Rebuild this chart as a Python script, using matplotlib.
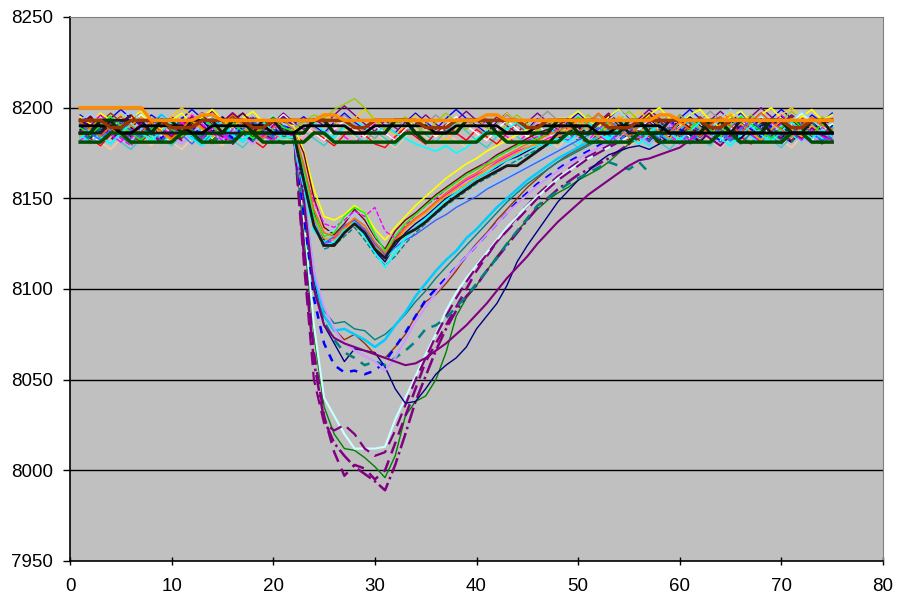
import numpy as np
import matplotlib
matplotlib.use("Agg")
import matplotlib.pyplot as plt

plt.rcParams['font.family'] = ['Liberation Sans', 'DejaVu Sans']

# --- runs that stay on the baseline (x = 1..75) ---
thick_orange = [8200, 8200, 8200, 8200, 8200, 8200, 8200, 8193, 8193, 8193, 8193, 8193, 8196, 8196, 8193, 8193, 8193, 8193, 8193, 8193, 8193, 8193, 8193, 8193, 8196, 8196, 8193, 8193, 8193, 8193, 8193, 8193, 8193, 8193, 8193, 8193, 8193, 8193, 8193, 8193, 8196, 8196, 8193, 8193, 8193, 8193, 8193, 8193, 8193, 8193, 8193, 8193, 8193, 8193, 8193, 8193, 8193, 8196, 8196, 8193, 8193, 8193, 8193, 8193, 8193, 8193, 8193, 8193, 8193, 8193, 8193, 8193, 8193, 8193, 8193]
thick_brown = [8193, 8193, 8193, 8189, 8189, 8193, 8193, 8193, 8193, 8189, 8189, 8189, 8193, 8193, 8193, 8193, 8193, 8189, 8189, 8193, 8193, 8193, 8193, 8193, 8193, 8193, 8193, 8189, 8189, 8193, 8193, 8193, 8193, 8193, 8189, 8189, 8189, 8193, 8193, 8193, 8193, 8193, 8193, 8193, 8189, 8189, 8193, 8193, 8193, 8193, 8193, 8193, 8189, 8189, 8189, 8193, 8193, 8193, 8193, 8193, 8193, 8193, 8189, 8189, 8193, 8193, 8193, 8193, 8193, 8193, 8189, 8189, 8193, 8193, 8193]
thick_dkgreen = [8186, 8186, 8193, 8193, 8186, 8186, 8186, 8186, 8193, 8193, 8186, 8186, 8186, 8186, 8186, 8193, 8193, 8186, 8186, 8186, 8186, 8186, 8186, 8193, 8193, 8186, 8186, 8186, 8186, 8186, 8186, 8193, 8193, 8186, 8186, 8186, 8186, 8186, 8193, 8193, 8193, 8186, 8186, 8186, 8186, 8186, 8186, 8193, 8193, 8186, 8186, 8186, 8186, 8186, 8193, 8193, 8186, 8186, 8186, 8186, 8186, 8186, 8193, 8193, 8186, 8186, 8186, 8186, 8193, 8193, 8186, 8186, 8186, 8186, 8186]
thick_green = [8181, 8181, 8181, 8186, 8186, 8181, 8181, 8181, 8181, 8181, 8186, 8186, 8181, 8181, 8181, 8181, 8186, 8186, 8181, 8181, 8181, 8181, 8181, 8186, 8186, 8181, 8181, 8181, 8181, 8181, 8181, 8181, 8186, 8186, 8181, 8181, 8181, 8181, 8181, 8181, 8186, 8186, 8181, 8181, 8181, 8181, 8181, 8181, 8186, 8186, 8181, 8181, 8181, 8181, 8181, 8186, 8186, 8181, 8181, 8181, 8181, 8181, 8181, 8186, 8186, 8181, 8181, 8181, 8181, 8181, 8186, 8186, 8181, 8181, 8181]
thick_black = [8190, 8190, 8190, 8190, 8186, 8186, 8190, 8190, 8190, 8190, 8190, 8186, 8186, 8190, 8190, 8190, 8190, 8190, 8190, 8186, 8186, 8186, 8190, 8190, 8190, 8190, 8190, 8186, 8186, 8190, 8190, 8190, 8190, 8190, 8190, 8186, 8186, 8190, 8190, 8190, 8190, 8190, 8186, 8186, 8186, 8190, 8190, 8190, 8190, 8190, 8190, 8186, 8186, 8190, 8190, 8190, 8190, 8190, 8186, 8186, 8186, 8186, 8186, 8186, 8186, 8186, 8186, 8186, 8186, 8186, 8186, 8186, 8186, 8186, 8186]

flat_lime = [8190, 8194, 8189, 8185, 8191, 8196, 8191, 8187, 8193, 8188, 8184, 8190, 8195, 8190, 8186, 8192, 8188, 8184, 8190, 8195, 8190, 8188, 8192, 8196, 8194, 8199, 8202, 8205, 8200, 8193, 8188, 8191, 8195, 8190, 8186, 8192, 8197, 8192, 8188, 8194, 8189, 8185, 8191, 8196, 8191, 8187, 8193, 8189, 8185, 8191, 8196, 8191, 8187, 8193, 8198, 8193, 8189, 8185, 8191, 8196, 8191, 8187, 8193, 8189, 8185, 8191, 8196, 8191, 8187, 8193, 8198, 8193, 8189, 8195, 8191]
flat_cyan = [8185, 8189, 8184, 8180, 8186, 8191, 8186, 8182, 8188, 8184, 8180, 8186, 8191, 8186, 8182, 8188, 8193, 8188, 8184, 8190, 8186, 8183, 8187, 8192, 8187, 8183, 8189, 8194, 8189, 8185, 8190, 8186, 8183, 8180, 8178, 8176, 8179, 8175, 8178, 8183, 8187, 8184, 8188, 8192, 8187, 8183, 8189, 8185, 8181, 8187, 8192, 8187, 8183, 8189, 8194, 8189, 8185, 8181, 8187, 8192, 8187, 8183, 8189, 8185, 8181, 8187, 8192, 8187, 8183, 8189, 8194, 8189, 8185, 8181, 8186]
flat_purple = [8194, 8190, 8196, 8191, 8187, 8193, 8198, 8193, 8189, 8195, 8191, 8187, 8193, 8198, 8193, 8189, 8194, 8190, 8186, 8192, 8197, 8192, 8188, 8194, 8190, 8196, 8201, 8196, 8191, 8187, 8193, 8189, 8185, 8191, 8196, 8191, 8187, 8193, 8198, 8193, 8189, 8195, 8190, 8186, 8192, 8197, 8192, 8188, 8194, 8190, 8186, 8192, 8197, 8192, 8188, 8194, 8199, 8194, 8190, 8196, 8191, 8187, 8193, 8198, 8193, 8189, 8195, 8200, 8195, 8191, 8196, 8192, 8188, 8194, 8190]
flat_magenta = [8182, 8187, 8192, 8187, 8183, 8179, 8185, 8190, 8185, 8181, 8187, 8183, 8179, 8185, 8190, 8185, 8181, 8187, 8192, 8187, 8183, 8185, 8190, 8186, 8182, 8188, 8184, 8180, 8186, 8191, 8186, 8182, 8188, 8184, 8180, 8186, 8191, 8186, 8182, 8188, 8193, 8188, 8184, 8180, 8186, 8191, 8186, 8182, 8188, 8184, 8180, 8186, 8191, 8186, 8182, 8188, 8193, 8188, 8184, 8180, 8186, 8191, 8186, 8182, 8188, 8184, 8180, 8186, 8191, 8186, 8182, 8188, 8193, 8188, 8184]
flat_blue = [8196, 8192, 8188, 8194, 8199, 8194, 8190, 8196, 8192, 8188, 8194, 8199, 8194, 8190, 8186, 8192, 8197, 8192, 8188, 8194, 8190, 8191, 8195, 8190, 8186, 8192, 8197, 8192, 8188, 8194, 8190, 8186, 8192, 8197, 8192, 8188, 8194, 8199, 8194, 8190, 8186, 8192, 8197, 8192, 8188, 8194, 8190, 8186, 8192, 8197, 8192, 8188, 8194, 8199, 8194, 8190, 8196, 8192, 8188, 8194, 8199, 8194, 8190, 8186, 8192, 8197, 8192, 8188, 8194, 8199, 8194, 8190, 8196, 8192, 8197]
flat_pink = [8188, 8184, 8190, 8195, 8190, 8186, 8182, 8188, 8193, 8188, 8184, 8190, 8186, 8182, 8188, 8193, 8188, 8184, 8190, 8195, 8190, 8187, 8183, 8189, 8194, 8189, 8185, 8181, 8187, 8192, 8187, 8183, 8189, 8194, 8189, 8185, 8181, 8187, 8192, 8187, 8183, 8189, 8185, 8181, 8187, 8192, 8187, 8183, 8189, 8194, 8189, 8185, 8181, 8187, 8192, 8187, 8183, 8189, 8194, 8189, 8185, 8181, 8187, 8192, 8187, 8183, 8189, 8185, 8181, 8187, 8192, 8187, 8183, 8189, 8186]
flat_tan = [8180, 8185, 8181, 8177, 8183, 8188, 8183, 8179, 8185, 8181, 8177, 8183, 8188, 8183, 8179, 8185, 8190, 8185, 8181, 8187, 8183, 8181, 8185, 8190, 8186, 8182, 8188, 8184, 8180, 8186, 8182, 8178, 8184, 8189, 8184, 8180, 8186, 8182, 8178, 8184, 8189, 8184, 8180, 8186, 8191, 8186, 8182, 8178, 8184, 8189, 8184, 8180, 8186, 8182, 8178, 8184, 8189, 8184, 8180, 8186, 8191, 8186, 8182, 8178, 8184, 8189, 8184, 8180, 8186, 8182, 8178, 8184, 8189, 8184, 8181]
flat_gold = [8193, 8188, 8184, 8190, 8196, 8192, 8187, 8183, 8189, 8195, 8200, 8195, 8190, 8186, 8192, 8197, 8192, 8187, 8183, 8189, 8194, 8190, 8186, 8192, 8197, 8192, 8188, 8194, 8199, 8194, 8189, 8185, 8191, 8196, 8191, 8186, 8182, 8188, 8194, 8189, 8185, 8191, 8197, 8192, 8187, 8183, 8189, 8194, 8189, 8185, 8191, 8197, 8192, 8187, 8193, 8198, 8193, 8188, 8184, 8190, 8196, 8191, 8186, 8192, 8198, 8193, 8188, 8184, 8190, 8196, 8200, 8195, 8190, 8186, 8191]
flat_aqua = [8181, 8186, 8191, 8186, 8181, 8177, 8183, 8188, 8183, 8179, 8185, 8190, 8185, 8180, 8186, 8182, 8178, 8184, 8189, 8184, 8180, 8182, 8187, 8183, 8179, 8185, 8190, 8185, 8181, 8187, 8183, 8179, 8185, 8190, 8185, 8181, 8187, 8192, 8187, 8182, 8178, 8184, 8189, 8184, 8180, 8186, 8191, 8186, 8182, 8178, 8184, 8189, 8184, 8180, 8186, 8191, 8186, 8181, 8177, 8183, 8188, 8183, 8179, 8185, 8190, 8185, 8181, 8187, 8182, 8178, 8184, 8189, 8184, 8180, 8183]
flat_red = [8187, 8183, 8179, 8185, 8190, 8185, 8181, 8187, 8192, 8187, 8183, 8189, 8185, 8181, 8187, 8192, 8187, 8182, 8178, 8184, 8189, 8185, 8181, 8187, 8183, 8179, 8185, 8190, 8185, 8180, 8178, 8184, 8189, 8184, 8180, 8186, 8191, 8186, 8182, 8188, 8184, 8180, 8186, 8191, 8186, 8182, 8188, 8193, 8188, 8184, 8180, 8186, 8191, 8186, 8182, 8188, 8184, 8180, 8186, 8191, 8186, 8182, 8188, 8193, 8188, 8184, 8180, 8186, 8191, 8186, 8182, 8188, 8184, 8180, 8185]
flat_gray = [8191, 8195, 8190, 8186, 8192, 8188, 8184, 8190, 8195, 8190, 8186, 8192, 8197, 8192, 8188, 8184, 8190, 8195, 8190, 8186, 8191, 8189, 8193, 8189, 8185, 8191, 8196, 8191, 8187, 8183, 8189, 8194, 8189, 8185, 8191, 8196, 8191, 8187, 8193, 8189, 8185, 8191, 8196, 8191, 8187, 8193, 8198, 8193, 8189, 8185, 8191, 8196, 8191, 8187, 8193, 8189, 8185, 8191, 8196, 8191, 8187, 8193, 8198, 8193, 8189, 8185, 8191, 8196, 8191, 8187, 8193, 8189, 8185, 8191, 8188]
flat_white = [8189, 8185, 8181, 8187, 8192, 8187, 8183, 8189, 8185, 8181, 8187, 8192, 8187, 8183, 8189, 8194, 8189, 8185, 8191, 8187, 8183, 8186, 8190, 8186, 8182, 8188, 8193, 8188, 8184, 8190, 8186, 8182, 8188, 8193, 8188, 8184, 8190, 8195, 8190, 8186, 8182, 8188, 8193, 8188, 8184, 8190, 8186, 8182, 8188, 8193, 8188, 8184, 8190, 8195, 8190, 8186, 8182, 8188, 8193, 8188, 8184, 8190, 8186, 8182, 8188, 8193, 8188, 8184, 8190, 8195, 8190, 8186, 8182, 8188, 8185]

# --- shallow dip, bottom near 8115-8135 ---
shallow_1 = [8188, 8192, 8186, 8190, 8194, 8189, 8185, 8191, 8195, 8188, 8184, 8190, 8193, 8187, 8191, 8196, 8190, 8186, 8189, 8193, 8188, 8186, 8168, 8142, 8127, 8125, 8131, 8136, 8130, 8121, 8115, 8124, 8131, 8136, 8140, 8145, 8150, 8153, 8157, 8161, 8164, 8167, 8171, 8173, 8176, 8179, 8181, 8183, 8186, 8190, 8185, 8189, 8193, 8188, 8184, 8190, 8194, 8189, 8186, 8191, 8195, 8190, 8186, 8189, 8193, 8188, 8185, 8190, 8194, 8189, 8186, 8191, 8188, 8185, 8190]
shallow_2 = [8182, 8186, 8190, 8185, 8181, 8187, 8191, 8186, 8182, 8188, 8192, 8186, 8183, 8189, 8185, 8181, 8186, 8190, 8184, 8182, 8187, 8184, 8160, 8138, 8124, 8128, 8134, 8138, 8132, 8124, 8118, 8128, 8134, 8139, 8143, 8148, 8152, 8156, 8160, 8163, 8166, 8170, 8173, 8176, 8178, 8180, 8183, 8185, 8182, 8187, 8191, 8185, 8181, 8186, 8190, 8184, 8182, 8188, 8192, 8186, 8182, 8187, 8191, 8186, 8183, 8189, 8185, 8181, 8187, 8191, 8186, 8182, 8188, 8184, 8182]
shallow_3 = [8195, 8191, 8197, 8193, 8189, 8194, 8198, 8192, 8188, 8193, 8197, 8191, 8195, 8199, 8193, 8189, 8194, 8198, 8192, 8196, 8191, 8190, 8176, 8155, 8140, 8138, 8141, 8146, 8142, 8133, 8127, 8134, 8140, 8146, 8151, 8156, 8161, 8165, 8169, 8172, 8176, 8179, 8182, 8185, 8188, 8190, 8192, 8194, 8194, 8198, 8193, 8189, 8195, 8199, 8193, 8190, 8196, 8200, 8194, 8191, 8196, 8199, 8193, 8189, 8195, 8198, 8192, 8196, 8200, 8194, 8190, 8195, 8199, 8193, 8196]
shallow_4 = [8185, 8181, 8186, 8191, 8187, 8183, 8189, 8184, 8180, 8186, 8190, 8185, 8181, 8187, 8192, 8186, 8182, 8188, 8184, 8180, 8186, 8183, 8155, 8132, 8126, 8130, 8133, 8137, 8131, 8123, 8117, 8122, 8128, 8133, 8138, 8142, 8147, 8151, 8155, 8158, 8162, 8165, 8168, 8171, 8174, 8177, 8179, 8181, 8184, 8180, 8186, 8190, 8185, 8181, 8187, 8183, 8179, 8185, 8189, 8184, 8180, 8186, 8191, 8186, 8182, 8188, 8184, 8180, 8186, 8190, 8185, 8181, 8187, 8183, 8180]
shallow_5 = [8190, 8195, 8190, 8186, 8192, 8196, 8190, 8187, 8193, 8189, 8185, 8191, 8196, 8191, 8187, 8193, 8197, 8191, 8187, 8192, 8188, 8187, 8175, 8150, 8134, 8130, 8136, 8144, 8138, 8128, 8122, 8132, 8138, 8142, 8147, 8152, 8156, 8160, 8164, 8167, 8170, 8174, 8177, 8180, 8183, 8186, 8188, 8190, 8194, 8189, 8185, 8191, 8196, 8190, 8186, 8192, 8197, 8191, 8187, 8193, 8189, 8185, 8191, 8195, 8190, 8186, 8192, 8197, 8192, 8188, 8193, 8189, 8185, 8191, 8194]
shallow_6 = [8187, 8183, 8189, 8193, 8188, 8184, 8190, 8186, 8182, 8188, 8193, 8188, 8184, 8190, 8186, 8182, 8188, 8192, 8187, 8183, 8188, 8185, 8162, 8136, 8122, 8124, 8129, 8134, 8127, 8119, 8113, 8118, 8125, 8131, 8136, 8141, 8146, 8150, 8154, 8158, 8161, 8164, 8168, 8171, 8174, 8177, 8180, 8182, 8186, 8182, 8188, 8193, 8188, 8184, 8190, 8186, 8182, 8188, 8193, 8187, 8183, 8189, 8185, 8181, 8187, 8192, 8187, 8183, 8189, 8185, 8181, 8187, 8192, 8186, 8183]
shallow_7 = [8193, 8197, 8192, 8188, 8194, 8198, 8193, 8189, 8195, 8191, 8187, 8193, 8197, 8192, 8188, 8194, 8190, 8186, 8192, 8196, 8191, 8189, 8170, 8145, 8130, 8133, 8138, 8142, 8136, 8127, 8121, 8126, 8130, 8134, 8137, 8140, 8144, 8147, 8150, 8153, 8156, 8159, 8162, 8165, 8168, 8171, 8174, 8177, 8180, 8184, 8188, 8187, 8193, 8198, 8193, 8189, 8195, 8190, 8186, 8192, 8197, 8192, 8188, 8194, 8199, 8194, 8190, 8196, 8191, 8187, 8193, 8198, 8193, 8189, 8192]
shallow_8 = [8184, 8189, 8194, 8189, 8185, 8190, 8195, 8190, 8186, 8182, 8188, 8193, 8188, 8184, 8189, 8194, 8189, 8185, 8190, 8186, 8183, 8184, 8165, 8140, 8128, 8127, 8132, 8139, 8133, 8125, 8117, 8126, 8133, 8138, 8142, 8147, 8151, 8155, 8158, 8162, 8166, 8169, 8172, 8175, 8178, 8180, 8182, 8184, 8188, 8193, 8188, 8184, 8190, 8195, 8190, 8186, 8191, 8187, 8183, 8189, 8194, 8189, 8185, 8191, 8196, 8191, 8187, 8182, 8188, 8193, 8188, 8184, 8190, 8186, 8188]
shallow_9 = [8191, 8186, 8182, 8188, 8192, 8187, 8183, 8189, 8194, 8189, 8185, 8180, 8186, 8191, 8186, 8182, 8188, 8193, 8188, 8184, 8190, 8186, 8158, 8134, 8125, 8129, 8135, 8138, 8133, 8125, 8119, 8123, 8127, 8130, 8134, 8138, 8141, 8145, 8148, 8151, 8155, 8158, 8161, 8164, 8167, 8170, 8173, 8176, 8179, 8182, 8185, 8189, 8185, 8181, 8187, 8192, 8187, 8183, 8189, 8185, 8180, 8186, 8191, 8186, 8182, 8188, 8193, 8188, 8184, 8180, 8186, 8191, 8186, 8182, 8184]
shallow_10 = [8186, 8191, 8196, 8191, 8187, 8183, 8189, 8194, 8189, 8185, 8191, 8196, 8191, 8186, 8182, 8188, 8193, 8188, 8184, 8190, 8186, 8185, 8166, 8148, 8136, 8134, 8138, 8143, 8140, 8145, 8132, 8128, 8135, 8141, 8146, 8150, 8155, 8159, 8163, 8166, 8170, 8173, 8176, 8179, 8182, 8184, 8186, 8188, 8191, 8186, 8182, 8188, 8193, 8188, 8184, 8190, 8195, 8190, 8185, 8181, 8187, 8192, 8187, 8183, 8189, 8194, 8189, 8185, 8191, 8196, 8191, 8187, 8183, 8189, 8186]
shallow_11 = [8189, 8185, 8190, 8195, 8190, 8186, 8182, 8188, 8193, 8188, 8184, 8189, 8194, 8190, 8186, 8191, 8187, 8183, 8189, 8194, 8189, 8187, 8167, 8141, 8129, 8131, 8140, 8145, 8142, 8130, 8121, 8129, 8136, 8141, 8146, 8151, 8155, 8159, 8163, 8166, 8169, 8173, 8176, 8179, 8181, 8183, 8185, 8187, 8190, 8195, 8190, 8186, 8192, 8188, 8184, 8190, 8195, 8190, 8186, 8182, 8188, 8193, 8188, 8184, 8190, 8195, 8191, 8187, 8183, 8189, 8194, 8189, 8185, 8191, 8188]
shallow_12 = [8183, 8188, 8184, 8180, 8186, 8191, 8186, 8182, 8187, 8192, 8187, 8183, 8179, 8185, 8190, 8185, 8181, 8187, 8192, 8187, 8183, 8184, 8163, 8137, 8124, 8126, 8132, 8136, 8129, 8120, 8112, 8120, 8128, 8134, 8139, 8144, 8149, 8153, 8157, 8161, 8164, 8168, 8171, 8174, 8177, 8179, 8181, 8183, 8181, 8186, 8191, 8186, 8182, 8188, 8184, 8180, 8186, 8191, 8186, 8182, 8187, 8192, 8187, 8183, 8179, 8185, 8190, 8185, 8181, 8187, 8192, 8187, 8183, 8188, 8184]
shallow_13 = [8192, 8188, 8184, 8190, 8195, 8190, 8186, 8192, 8187, 8183, 8189, 8194, 8189, 8185, 8191, 8196, 8191, 8187, 8183, 8189, 8193, 8188, 8169, 8144, 8131, 8129, 8134, 8139, 8135, 8126, 8120, 8127, 8134, 8139, 8143, 8148, 8153, 8157, 8161, 8164, 8168, 8171, 8174, 8177, 8180, 8182, 8185, 8187, 8190, 8186, 8192, 8197, 8192, 8188, 8184, 8190, 8195, 8190, 8186, 8192, 8188, 8184, 8190, 8195, 8190, 8186, 8192, 8197, 8192, 8188, 8184, 8190, 8195, 8190, 8188]
shallow_14 = [8186, 8186, 8186, 8193, 8193, 8193, 8193, 8186, 8186, 8186, 8186, 8193, 8193, 8193, 8186, 8186, 8186, 8186, 8193, 8193, 8186, 8186, 8160, 8135, 8124, 8124, 8131, 8136, 8131, 8122, 8117, 8126, 8130, 8133, 8137, 8142, 8147, 8151, 8155, 8159, 8162, 8165, 8168, 8168, 8172, 8176, 8180, 8186, 8186, 8186, 8186, 8193, 8193, 8193, 8186, 8186, 8186, 8186, 8193, 8193, 8193, 8193, 8186, 8186, 8186, 8193, 8193, 8193, 8186, 8186, 8186, 8186, 8193, 8193, 8186]

# --- medium dip, bottom near 8040-8075 ---
medium_navy = [8187, 8183, 8189, 8193, 8188, 8184, 8190, 8186, 8182, 8188, 8193, 8188, 8184, 8190, 8195, 8190, 8186, 8182, 8188, 8193, 8188, 8186, 8150, 8105, 8080, 8070, 8060, 8067, 8066, 8065, 8057, 8045, 8037, 8038, 8045, 8053, 8058, 8062, 8068, 8078, 8085, 8092, 8102, 8115, 8124, 8132, 8140, 8148, 8154, 8160, 8165, 8170, 8174, 8176, 8178, 8179, 8177, 8180, 8184, 8188, 8185, 8181, 8187, 8192, 8187, 8183, 8189, 8194, 8189, 8185, 8181, 8187, 8192, 8187, 8184]
medium_brown = [8190, 8186, 8192, 8197, 8192, 8188, 8184, 8190, 8195, 8190, 8186, 8192, 8188, 8184, 8190, 8195, 8190, 8186, 8192, 8188, 8184, 8186, 8145, 8100, 8085, 8078, 8072, 8075, 8070, 8064, 8062, 8068, 8075, 8085, 8093, 8097, 8103, 8110, 8118, 8125, 8131, 8138, 8144, 8150, 8156, 8161, 8166, 8170, 8174, 8177, 8180, 8183, 8186, 8190, 8186, 8182, 8188, 8193, 8188, 8184, 8190, 8195, 8190, 8186, 8182, 8188, 8193, 8188, 8184, 8190, 8195, 8190, 8186, 8192, 8188]
medium_teal = [8183, 8188, 8193, 8188, 8184, 8180, 8186, 8191, 8186, 8182, 8188, 8184, 8180, 8186, 8191, 8186, 8182, 8188, 8193, 8188, 8184, 8183, 8148, 8110, 8088, 8081, 8082, 8078, 8077, 8072, 8075, 8080, 8086, 8093, 8099, 8106, 8112, 8118, 8124, 8130, 8136, 8142, 8148, 8153, 8158, 8162, 8166, 8170, 8173, 8176, 8179, 8182, 8180, 8184, 8189, 8184, 8180, 8186, 8191, 8186, 8182, 8188, 8193, 8188, 8184, 8180, 8186, 8191, 8186, 8182, 8188, 8193, 8188, 8184, 8187]
medium_sky = [8191, 8187, 8183, 8189, 8194, 8189, 8185, 8191, 8196, 8191, 8187, 8183, 8189, 8194, 8189, 8185, 8191, 8187, 8183, 8189, 8194, 8189, 8152, 8108, 8085, 8077, 8078, 8075, 8072, 8068, 8072, 8080, 8087, 8096, 8103, 8110, 8116, 8121, 8128, 8133, 8139, 8145, 8150, 8155, 8160, 8164, 8168, 8172, 8175, 8178, 8181, 8184, 8188, 8193, 8188, 8184, 8190, 8186, 8182, 8188, 8193, 8188, 8184, 8190, 8195, 8190, 8186, 8182, 8188, 8193, 8188, 8184, 8190, 8186, 8189]
medium_teal_dash = [8186, 8182, 8188, 8193, 8188, 8184, 8190, 8186, 8182, 8188, 8193, 8188, 8184, 8180, 8186, 8191, 8186, 8182, 8188, 8184, 8180, 8184, 8140, 8100, 8082, 8072, 8065, 8062, 8058, 8060, 8058, 8062, 8066, 8071, 8078, 8080, 8084, 8090, 8096, 8103, 8110, 8117, 8125, 8132, 8139, 8146, 8150, 8154, 8158, 8161, 8164, 8167, 8170, 8168, 8166, 8170, 8164]
medium_blue_dash = [8189, 8194, 8189, 8185, 8191, 8196, 8191, 8187, 8183, 8189, 8194, 8189, 8185, 8191, 8187, 8183, 8189, 8194, 8189, 8185, 8191, 8187, 8142, 8095, 8070, 8058, 8054, 8055, 8053, 8055, 8060, 8068, 8076, 8085, 8094, 8100, 8106, 8112, 8118, 8124, 8130, 8136, 8142, 8148, 8153, 8158, 8162, 8166, 8170, 8173, 8176, 8179, 8182, 8185, 8190, 8186, 8182, 8188, 8193, 8188, 8184, 8190, 8186, 8182, 8188, 8193, 8188, 8184, 8190, 8195, 8190, 8186, 8182, 8188, 8185]
medium_lavender = [8184, 8180, 8186, 8191, 8186, 8182, 8188, 8193, 8188, 8184, 8180, 8186, 8191, 8186, 8182, 8188, 8184, 8180, 8186, 8191, 8186, 8184, 8150, 8110, 8090, 8078, 8070, 8066, 8063, 8060, 8055, 8062, 8072, 8082, 8090, 8098, 8105, 8112, 8118, 8124, 8130, 8136, 8142, 8147, 8152, 8157, 8161, 8165, 8169, 8172, 8175, 8178, 8181, 8184, 8188, 8184, 8180, 8186, 8191, 8186, 8182, 8188, 8184, 8180, 8186, 8191, 8186, 8182, 8188, 8193, 8188, 8184, 8180, 8186, 8183]
medium_purple = [8192, 8188, 8184, 8190, 8195, 8190, 8186, 8192, 8188, 8184, 8190, 8195, 8190, 8186, 8192, 8197, 8192, 8188, 8184, 8190, 8195, 8190, 8150, 8100, 8080, 8073, 8070, 8068, 8066, 8064, 8062, 8060, 8058, 8059, 8062, 8066, 8070, 8075, 8080, 8086, 8092, 8099, 8106, 8112, 8118, 8125, 8131, 8137, 8142, 8147, 8152, 8156, 8160, 8164, 8168, 8171, 8172, 8174, 8176, 8178, 8182, 8187, 8183, 8179, 8185, 8190, 8185, 8181, 8187, 8192, 8187, 8183, 8189, 8185, 8182]

# --- deep dip, bottom near 7990-8012 ---
deep_green = [8188, 8184, 8190, 8195, 8190, 8186, 8182, 8188, 8193, 8188, 8184, 8190, 8186, 8182, 8188, 8193, 8188, 8184, 8190, 8195, 8190, 8186, 8130, 8075, 8035, 8020, 8012, 8011, 8007, 8002, 7996, 8008, 8030, 8038, 8041, 8050, 8065, 8085, 8095, 8102, 8110, 8118, 8125, 8132, 8138, 8144, 8149, 8153, 8156, 8160, 8163, 8166, 8170, 8175, 8180, 8183, 8181, 8186, 8191, 8186, 8182, 8188, 8193, 8188, 8184, 8190, 8186, 8182, 8188, 8193, 8188, 8184, 8190, 8186, 8189]
deep_purple_dd = [8190, 8195, 8190, 8186, 8192, 8188, 8184, 8190, 8195, 8190, 8186, 8192, 8197, 8192, 8188, 8184, 8190, 8195, 8190, 8186, 8192, 8188, 8120, 8060, 8028, 8015, 8008, 8002, 7998, 7994, 7989, 8003, 8020, 8038, 8052, 8066, 8078, 8088, 8096, 8102, 8110, 8117, 8124, 8131, 8138, 8145, 8150, 8155, 8159, 8163, 8166, 8169, 8172, 8176, 8180, 8184, 8189, 8185, 8181, 8187, 8192, 8187, 8183, 8189, 8194, 8189, 8185, 8191, 8187, 8183, 8189, 8194, 8189, 8185, 8188]
deep_purple_dash = [8185, 8181, 8187, 8192, 8187, 8183, 8189, 8185, 8181, 8187, 8192, 8187, 8183, 8189, 8194, 8189, 8185, 8181, 8187, 8192, 8187, 8185, 8125, 8065, 8030, 8010, 7997, 8003, 8001, 7995, 8000, 8015, 8030, 8045, 8060, 8070, 8080, 8090, 8100, 8110, 8118, 8126, 8133, 8140, 8146, 8152, 8157, 8162, 8166, 8170, 8173, 8176, 8179, 8182, 8186, 8191, 8186, 8182, 8188, 8193, 8188, 8184, 8190, 8186, 8182, 8188, 8193, 8188, 8184, 8190, 8195, 8190, 8186, 8182, 8186]
deep_pale = [8192, 8188, 8194, 8189, 8185, 8191, 8196, 8191, 8187, 8193, 8189, 8185, 8191, 8196, 8191, 8187, 8193, 8189, 8185, 8191, 8196, 8191, 8140, 8080, 8040, 8030, 8020, 8012, 8012, 8012, 8013, 8028, 8040, 8052, 8064, 8075, 8088, 8098, 8106, 8113, 8120, 8127, 8134, 8140, 8146, 8151, 8156, 8161, 8165, 8169, 8172, 8175, 8178, 8181, 8184, 8188, 8193, 8188, 8184, 8190, 8195, 8190, 8186, 8192, 8188, 8184, 8190, 8195, 8190, 8186, 8192, 8197, 8192, 8188, 8191]
deep_purple_bump = [8187, 8191, 8186, 8182, 8188, 8193, 8188, 8184, 8190, 8186, 8182, 8188, 8193, 8188, 8184, 8180, 8186, 8191, 8186, 8182, 8188, 8186, 8115, 8050, 8026, 8022, 8025, 8020, 8012, 8008, 8010, 8022, 8036, 8050, 8062, 8074, 8085, 8095, 8104, 8112, 8119, 8126, 8132, 8138, 8144, 8150, 8155, 8160, 8164, 8168, 8172, 8175, 8178, 8181, 8183, 8187, 8192, 8187, 8183, 8189, 8185, 8181, 8187, 8192, 8187, 8183, 8189, 8194, 8189, 8185, 8181, 8187, 8192, 8187, 8184]

# (values, colour, dash, width) in drawing order
series = [
    (flat_tan, '#FFCC99', '-', 1.0),
    (flat_pink, '#FF99CC', '-', 1.0),
    (flat_magenta, '#FF00FF', '--', 1.0),
    (flat_blue, '#0000FF', '-', 1.0),
    (flat_purple, '#800080', '-', 1.0),
    (flat_gold, '#FFCC00', '-', 1.0),
    (flat_aqua, '#33CCCC', '-', 1.0),
    (flat_red, '#FF0000', '-', 1.0),
    (flat_gray, '#969696', '-', 1.0),
    (flat_white, '#FFFFFF', '-', 1.0),
    (flat_cyan, '#00FFFF', '-', 1.2),
    (flat_lime, '#99CC00', '-', 1.0),
    (deep_green, '#008000', '-', 1.0),
    (deep_purple_dd, '#800080', '-.', 1.8),
    (deep_purple_dash, '#800080', (0, (5, 3)), 1.8),
    (deep_pale, '#CCFFFF', '-', 1.5),
    (deep_purple_bump, '#800080', (0, (6, 3)), 1.6),
    (medium_navy, '#000080', '-', 1.0),
    (medium_brown, '#993300', '-', 1.0),
    (medium_teal, '#008080', '-', 1.0),
    (medium_sky, '#00CCFF', '-', 1.8),
    (medium_teal_dash, '#008080', (0, (4, 3)), 1.8),
    (medium_blue_dash, '#0000FF', (0, (3, 3)), 1.8),
    (medium_lavender, '#CC99FF', '-', 1.5),
    (medium_purple, '#800080', '-', 1.5),
    (shallow_1, '#000080', '-', 1.0),
    (shallow_2, '#FF00FF', '-', 1.0),
    (shallow_3, '#FFFF00', '-', 1.2),
    (shallow_4, '#00FFFF', '-.', 1.2),
    (shallow_5, '#800000', '-', 1.0),
    (shallow_6, '#008080', '--', 1.0),
    (shallow_7, '#99CCFF', '-', 1.2),
    (shallow_8, '#FF9900', '-', 1.2),
    (shallow_9, '#3366FF', '-', 1.0),
    (shallow_10, '#FF00FF', '--', 1.0),
    (shallow_11, '#00FF00', '-', 1.0),
    (shallow_12, '#00FFFF', '-', 1.2),
    (shallow_13, '#FF6600', '-', 1.0),
    (shallow_14, '#1A1A1A', '-', 2.0),
    (thick_green, '#005000', '-', 2.5),
    (thick_dkgreen, '#003300', '-', 2.5),
    (thick_black, '#000000', '-', 2.0),
    (thick_brown, '#993300', '-', 2.5),
    (thick_orange, '#FF8C00', '-', 2.5),
]

fig = plt.figure(figsize=(8.98, 6.01), dpi=100)
ax = fig.add_axes([70 / 898, 40 / 601, 813 / 898, 544 / 601])
ax.set_facecolor('#C0C0C0')

for vals, col, ls, lw in series:
    x = np.arange(1, len(vals) + 1)
    ax.plot(x, vals, color=col, linestyle=ls, linewidth=lw, zorder=3)

ax.set_xlim(0, 80)
ax.set_ylim(7950, 8250)
ax.set_xticks(np.arange(0, 81, 10))
ax.set_yticks(np.arange(7950, 8251, 50))
for yv in range(8000, 8250, 50):
    ax.axhline(yv, color='black', linewidth=1.0, zorder=2)

ax.spines['left'].set_color('black')
ax.spines['bottom'].set_color('black')
ax.spines['left'].set_linewidth(1.2)
ax.spines['bottom'].set_linewidth(1.2)
ax.spines['top'].set_color('#808080')
ax.spines['right'].set_color('#808080')
ax.tick_params(axis='y', direction='out', length=5, width=1, pad=7, labelsize=13.5)
ax.tick_params(axis='x', direction='inout', length=6, width=1, pad=9, labelsize=13.5)

fig.savefig('out.png', dpi=100, facecolor='white')
